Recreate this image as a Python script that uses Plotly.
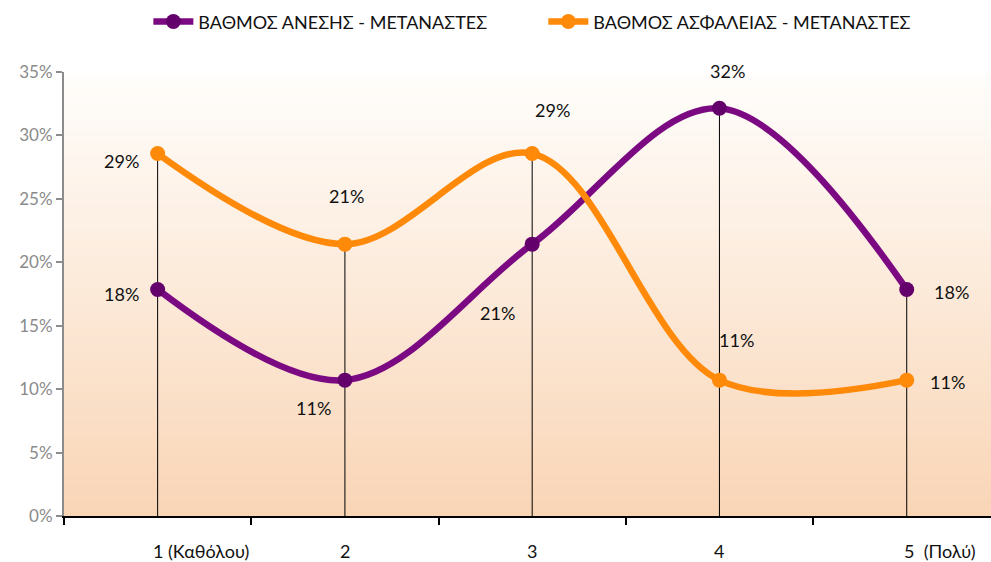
import plotly.graph_objects as go

# Categories and series (shares of respondents)
categories = ["1 (Καθόλου)", "2", "3", "4", "5  (Πολύ)"]
anesi = [0.1786, 0.1071, 0.2143, 0.3214, 0.1786]      # ΒΑΘΜΟΣ ΑΝΕΣΗΣ
asfaleia = [0.2857, 0.2143, 0.2857, 0.1071, 0.1071]   # ΒΑΘΜΟΣ ΑΣΦΑΛΕΙΑΣ
y_ticks = [0, 0.05, 0.10, 0.15, 0.20, 0.25, 0.30, 0.35]

name_a = "ΒΑΘΜΟΣ ΑΝΕΣΗΣ - ΜΕΤΑΝΑΣΤΕΣ"
name_b = "ΒΑΘΜΟΣ ΑΣΦΑΛΕΙΑΣ - ΜΕΤΑΝΑΣΤΕΣ"

PURPLE = "#7b0a82"
PURPLE_DARK = "#63006b"
ORANGE = "#ff8a0a"
FONT = "Lato, 'Open Sans', sans-serif"

fig = go.Figure()

# vertical drop lines from the highest point at each category to the axis
drop_x, drop_y = [], []
for c, a, b in zip(categories, anesi, asfaleia):
    drop_x += [c, c, None]
    drop_y += [max(a, b), 0, None]
fig.add_trace(go.Scatter(x=drop_x, y=drop_y, mode="lines",
                         line=dict(color="#000000", width=1),
                         showlegend=False, hoverinfo="skip"))

fig.add_trace(go.Scatter(
    x=categories, y=anesi, name=name_a, mode="lines+markers",
    line=dict(color=PURPLE, width=6.5, shape="spline", smoothing=1.0),
    marker=dict(color=PURPLE_DARK, size=15, line=dict(width=0)),
))
fig.add_trace(go.Scatter(
    x=categories, y=asfaleia, name=name_b, mode="lines+markers",
    line=dict(color=ORANGE, width=6.5, shape="spline", smoothing=1.0),
    marker=dict(color=ORANGE, size=15, line=dict(width=0)),
))

# data labels, offset from their points (x given as category index)
offs_a = [(-36, -5), (-31, -28), (-35, -69), (8, 37), (45, -3)]
offs_b = [(-36, -7), (2, 48), (20, 44), (17, 40), (41, -2)]
annotations = []
for vals, offs in ((anesi, offs_a), (asfaleia, offs_b)):
    for i, (v, (dx, dy)) in enumerate(zip(vals, offs)):
        annotations.append(dict(
            x=i, y=v, xref="x", yref="y", text=f"{round(v * 100)}%",
            showarrow=False, xshift=dx, yshift=dy,
            font=dict(family=FONT, size=18, color="#111111"),
        ))

# category labels under the axis
label_shift = [-7, 0, 0, 0, -5]
label_anchor = ["left", "center", "center", "center", "left"]
for i, (c, s, a) in enumerate(zip(categories, label_shift, label_anchor)):
    annotations.append(dict(
        x=i, y=0, xref="x", yref="y", text=c, showarrow=False,
        xanchor=a, yanchor="middle", xshift=s, yshift=-35,
        font=dict(family=FONT, size=18, color="#111111"),
    ))

# vertical white-to-peach gradient behind the plot
shapes = []
n = 90
top = (255, 254, 252)
bot = (249, 213, 182)
for i in range(n):
    t = (i + 0.5) / n
    col = tuple(round(top[k] + (bot[k] - top[k]) * t) for k in range(3))
    shapes.append(dict(
        type="rect", xref="x domain", yref="y domain",
        x0=0, x1=1, y0=1 - (i + 1) / n, y1=1 - i / n + 0.002,
        fillcolor="rgb(%d,%d,%d)" % col, line=dict(width=0), layer="below",
    ))

fig.update_layout(
    width=991, height=562,
    margin=dict(l=64, r=0, t=72, b=46),
    paper_bgcolor="#ffffff", plot_bgcolor="#ffffff",
    font=dict(family=FONT, size=16, color="#111111"),
    showlegend=True,
    legend=dict(orientation="h", x=0.091, xanchor="left", y=1.113,
                yanchor="middle", font=dict(family=FONT, size=18, color="#111111"),
                itemwidth=40, entrywidth=340, entrywidthmode="pixels",
                tracegroupgap=0),
    annotations=annotations,
    shapes=shapes,
    hovermode=False,
)
fig.update_xaxes(
    type="category", range=[-0.5, 4.45], showgrid=False,
    showline=True, linecolor="#000000", linewidth=2,
    ticks="outside", tickson="boundaries", ticklen=7, tickwidth=2,
    tickcolor="#000000", showticklabels=False, zeroline=False,
)
fig.update_yaxes(
    range=[0, 0.35], tickvals=y_ticks, tickformat=".0%",
    showgrid=False, zeroline=False,
    showline=True, linecolor="#8c8c8c", linewidth=2,
    ticks="outside", ticklen=6, tickwidth=2, tickcolor="#8c8c8c",
    tickfont=dict(family=FONT, size=17, color="#8a8a8a"),
)

fig.write_html("out.html")
